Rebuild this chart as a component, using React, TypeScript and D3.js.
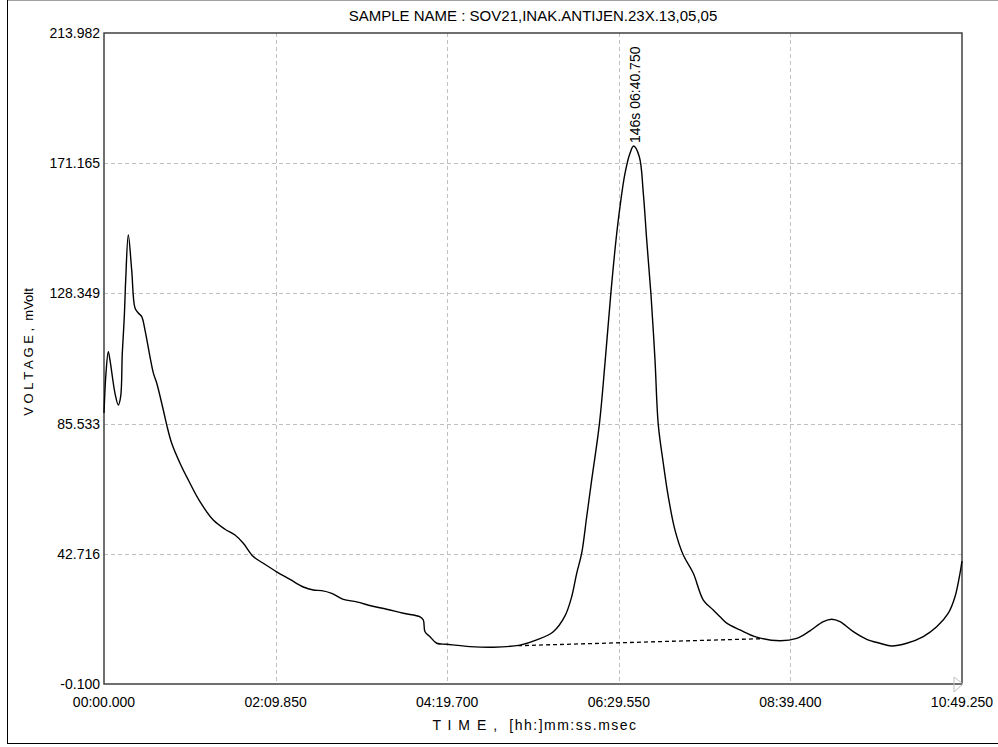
import React from "react";
import * as d3 from "d3";

// Time (seconds) of each sampled point of the trace
const timeSec = [
  0.0, 1.5, 3.25, 4.54, 8.32, 10.82, 12.6, 13.85, 15.36, 16.42, 18.39, 20.96, 23.46, 25.95, 28.53,
  31.02, 34.81, 37.31, 39.88, 44.87, 47.45, 51.23, 57.51, 63.79, 72.64, 82.71, 91.56, 99.13,
  105.41, 112.98, 120.54, 130.68, 140.75, 150.81, 158.38, 164.73, 172.3, 181.08, 191.22, 202.57,
  213.92, 226.48, 239.12, 241.62, 242.9, 246.68, 251.75, 259.32, 276.95, 294.58, 314.79, 327.42,
  339.98, 348.84, 353.9, 357.69, 361.47, 365.26, 369.04, 374.79, 379.1, 383.42, 387.43, 390.46,
  394.24, 398.02, 400.75, 405.07, 408.1, 410.67, 413.92, 416.94, 419.44, 423.22, 427.0, 432.07,
  438.35, 445.92, 453.49, 461.06, 466.13, 471.2, 481.26, 493.9, 511.53, 524.17, 534.23, 544.3,
  550.65, 556.94, 567.0, 577.14, 587.2, 596.05, 607.4, 619.96, 630.1, 638.88, 643.95, 647.74,
  649.25,
];

// Detector voltage (mV) at each time
const voltage = [
  89.0, 102.1, 109.2, 106.4, 95.5, 91.65, 94.4, 108.75, 120.7, 132.76, 147.55, 136.0, 123.55,
  121.9, 120.7, 116.3, 107.5, 102.2, 98.9, 90.0, 85.1, 79.05, 72.5, 67.0, 59.85, 53.8, 50.8,
  48.9, 46.2, 41.8, 39.6, 36.8, 34.3, 31.8, 30.8, 30.6, 29.7, 27.75, 26.9, 25.55, 24.5, 23.15,
  22.0, 20.95, 17.1, 15.45, 13.3, 12.95, 12.2, 12.0, 12.7, 14.4, 17.1, 22.3, 28.6, 36.3, 42.9,
  54.9, 67.0, 85.1, 105.4, 127.8, 145.9, 156.9, 167.8, 174.4, 176.8, 173.3, 161.3, 145.9, 127.8,
  106.4, 85.1, 72.5, 61.5, 50.5, 42.3, 36.3, 27.5, 24.2, 22.0, 19.9, 17.7, 15.3, 14.1, 14.9,
  17.4, 20.4, 21.2, 20.4, 17.1, 14.6, 13.3, 12.4, 13.3, 15.5, 18.7, 23.2, 28.6, 36.3, 40.3,
];

// Integration baseline under the main peak
const baselineTime = [313.3, 497.9];
const baselineVolt = [12.5, 14.8];

// Peak annotation
const peakTime = 400.75;
const peakVolt = 176.8;
const peakLabel = "146s 06:40.750";

const xTickValues = [0, 129.85, 259.7, 389.55, 519.4, 649.25];
const xTickLabels = ["00:00.000", "02:09.850", "04:19.700", "06:29.550", "08:39.400", "10:49.250"];
const yTickValues = [-0.1, 42.716, 85.533, 128.349, 171.165, 213.982];
const yTickLabels = ["-0.100", "42.716", "85.533", "128.349", "171.165", "213.982"];

const title = "SAMPLE NAME : SOV21,INAK.ANTIJEN.23X.13,05,05";
const xTitle = "T I M E ,  [hh:]mm:ss.msec";
const yTitle = "V O L T A G E ,  mVolt";

const W = 998;
const H = 747;
const L = 104;
const R = 962;
const T = 33;
const B = 684;
const FONT = "'Liberation Sans', Arial, sans-serif";

export default function App() {
  const x = d3.scaleLinear().domain([0, 649.25]).range([L, R]);
  const y = d3.scaleLinear().domain([-0.1, 213.982]).range([B, T]);

  const pts: [number, number][] = timeSec.map((t, i) => [t, voltage[i]]);
  const line = d3
    .line<[number, number]>()
    .x((d) => x(d[0]))
    .y((d) => y(d[1]))
    .curve(d3.curveCatmullRom.alpha(0.5));
  const straight = d3
    .line<[number, number]>()
    .x((d) => x(d[0]))
    .y((d) => y(d[1]));
  const basePts: [number, number][] = baselineTime.map((t, i) => [t, baselineVolt[i]]);

  return (
    <svg
      width={W}
      height={H}
      style={{ position: "absolute", left: 0, top: 0, background: "#fff" }}
      fontFamily={FONT}
    >
      <rect x={0} y={0} width={W} height={H} fill="#fff" />
      {/* outer frame */}
      <line x1={7} y1={0.5} x2={W} y2={0.5} stroke="#a0a0a0" />
      <line x1={7.5} y1={0} x2={7.5} y2={743.5} stroke="#000" />
      <line x1={7} y1={743.5} x2={W} y2={743.5} stroke="#000" />

      {/* grid */}
      {yTickValues.slice(1, -1).map((v, i) => (
        <line
          key={"gy" + i}
          x1={L}
          x2={R}
          y1={Math.round(y(v)) + 0.5}
          y2={Math.round(y(v)) + 0.5}
          stroke="#c0c0c0"
          strokeDasharray="4,3"
        />
      ))}
      {xTickValues.slice(1, -1).map((v, i) => (
        <line
          key={"gx" + i}
          x1={Math.round(x(v)) + 0.5}
          x2={Math.round(x(v)) + 0.5}
          y1={T}
          y2={B}
          stroke="#c0c0c0"
          strokeDasharray="4,3"
        />
      ))}

      {/* plot border */}
      <rect x={L} y={T} width={R - L} height={B - T} fill="none" stroke="#404040" strokeWidth={1.5} />

      {/* end marker */}
      <path
        d={`M${x(649.25) - 8},${y(-0.1) - 7} L${x(649.25) + 1},${y(-0.1)} L${x(649.25) - 8},${y(-0.1) + 8} Z`}
        fill="none"
        stroke="#c0c0c0"
      />

      {/* baseline */}
      <path d={straight(basePts) || ""} fill="none" stroke="#000" strokeWidth={1.3} strokeDasharray="4,3" />
      {/* trace */}
      <path d={line(pts) || ""} fill="none" stroke="#000" strokeWidth={1.4} strokeLinejoin="round" />

      {/* peak label */}
      <text
        transform={`translate(${x(peakTime) + 6},${y(peakVolt) - 3}) rotate(-90)`}
        fontSize={14}
        fill="#000"
      >
        {peakLabel}
      </text>

      {/* y ticks */}
      {yTickValues.map((v, i) => (
        <text
          key={"yt" + i}
          x={L - 4}
          y={y(v) + 5}
          textAnchor="end"
          fontSize={14}
          fill="#000"
        >
          {yTickLabels[i]}
        </text>
      ))}
      {/* x ticks */}
      {xTickValues.map((v, i) => (
        <text key={"xt" + i} x={x(v)} y={707} textAnchor="middle" fontSize={14} fill="#000">
          {xTickLabels[i]}
        </text>
      ))}

      <text x={(L + R) / 2} y={21} textAnchor="middle" fontSize={15} fill="#000">
        {title}
      </text>
      <text
        x={(L + R) / 2 + 2}
        y={730}
        textAnchor="middle"
        fontSize={14}
        letterSpacing={1.5}
        fill="#000"
        style={{ whiteSpace: "pre" }}
      >
        {xTitle}
      </text>
      <text
        transform={`translate(33,352) rotate(-90)`}
        textAnchor="middle"
        fontSize={13}
        fill="#000"
        style={{ whiteSpace: "pre" }}
      >
        {yTitle}
      </text>
    </svg>
  );
}
